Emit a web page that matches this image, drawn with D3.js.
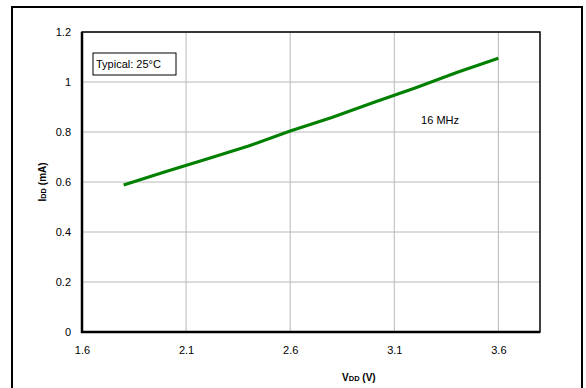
<!DOCTYPE html>
<html>
<head>
<meta charset="utf-8">
<script src="https://cdn.jsdelivr.net/npm/d3@7"></script>
<style>
  html, body { margin: 0; padding: 0; background: #fff; }
  svg { display: block; font-family: Arial, 'Liberation Sans', sans-serif; }
</style>
</head>
<body>
<div id="chart"></div>
<script>
// IDD vs VDD, typical 25°C, 16 MHz
var vdd = [1.8, 2.0, 2.2, 2.4, 2.6, 2.8, 3.0, 3.2, 3.4, 3.6];
var idd = [0.588, 0.641, 0.692, 0.744, 0.804, 0.858, 0.918, 0.976, 1.038, 1.095];
var xTicks = [1.6, 2.1, 2.6, 3.1, 3.6];
var yTicks = [0, 0.2, 0.4, 0.6, 0.8, 1, 1.2];
var seriesLabel = '16 MHz';
var noteLabel = 'Typical: 25°C';

(function(){
  var W = 586, H = 388;
  var margin = { top: 32, right: 46, bottom: 56, left: 82 };
  var width = W - margin.left - margin.right;
  var height = H - margin.top - margin.bottom;

  var svg = d3.select('#chart').append('svg')
    .attr('width', W).attr('height', H);

  // outer frame (bottom edge runs off the picture)
  svg.append('rect')
    .attr('x', 12).attr('y', 7)
    .attr('width', 570).attr('height', 400)
    .attr('fill', 'none').attr('stroke', '#000').attr('stroke-width', 2);

  var g = svg.append('g').attr('transform', 'translate(' + margin.left + ',' + margin.top + ')');

  var x = d3.scaleLinear().domain([1.6, 3.8]).range([0, width]);
  var y = d3.scaleLinear().domain([0, 1.2]).range([height, 0]);

  // gridlines
  g.append('g').selectAll('line.vg')
    .data(xTicks.slice(1))
    .enter().append('line')
    .attr('x1', function(d){ return x(d); }).attr('x2', function(d){ return x(d); })
    .attr('y1', 0).attr('y2', height)
    .attr('stroke', '#b8b8b8').attr('stroke-width', 1);
  g.append('g').selectAll('line.hg')
    .data(yTicks.slice(1))
    .enter().append('line')
    .attr('x1', 0).attr('x2', width)
    .attr('y1', function(d){ return y(d); }).attr('y2', function(d){ return y(d); })
    .attr('stroke', '#b8b8b8').attr('stroke-width', 1);

  // plot frame
  g.append('rect')
    .attr('x', 0).attr('y', 0).attr('width', width).attr('height', height)
    .attr('fill', 'none').attr('stroke', '#000').attr('stroke-width', 1.5);
  g.append('path')
    .attr('d', 'M0,0V' + height + 'H' + width)
    .attr('fill', 'none').attr('stroke', '#000').attr('stroke-width', 2.5);

  // tick labels
  var ax = g.append('g')
    .attr('transform', 'translate(0,' + height + ')')
    .call(d3.axisBottom(x).tickValues(xTicks).tickSize(0).tickPadding(14)
      .tickFormat(function(d){ return d3.format('.1f')(d); }));
  ax.select('.domain').remove();
  ax.selectAll('text').style('font-size', '11px').style('fill', '#000').style('font-family', 'Arial, Liberation Sans, sans-serif');

  var ay = g.append('g')
    .call(d3.axisLeft(y).tickValues(yTicks).tickSize(0).tickPadding(11)
      .tickFormat(function(d){ return d === 0 || d === 1 ? String(d) : d3.format('.1f')(d); }));
  ay.select('.domain').remove();
  ay.selectAll('text').style('font-size', '11px').style('fill', '#000').style('font-family', 'Arial, Liberation Sans, sans-serif');

  // data line
  var pts = vdd.map(function(v, i){ return [v, idd[i]]; });
  g.append('path')
    .datum(pts)
    .attr('d', d3.line().x(function(d){ return x(d[0]); }).y(function(d){ return y(d[1]); }))
    .attr('fill', 'none').attr('stroke', '#008000').attr('stroke-width', 3)
    .attr('stroke-linejoin', 'round');

  // series label
  g.append('text')
    .attr('x', x(3.32)).attr('y', y(0.832))
    .attr('text-anchor', 'middle')
    .style('font-size', '11px')
    .text(seriesLabel);

  // note box
  var note = g.append('g').attr('transform', 'translate(11,21)');
  note.append('rect')
    .attr('width', 83).attr('height', 22)
    .attr('fill', '#fff').attr('stroke', '#000').attr('stroke-width', 1);
  note.append('text')
    .attr('x', 3).attr('y', 15)
    .style('font-size', '11px')
    .text(noteLabel);

  // axis titles
  var xt = svg.append('text')
    .attr('x', margin.left + x(2.93)).attr('y', 381)
    .attr('text-anchor', 'middle')
    .style('font-size', '10px').style('font-weight', 'bold');
  xt.append('tspan').text('V');
  xt.append('tspan').style('font-size', '7.5px').text('DD');
  xt.append('tspan').text(' (V)');

  var yt = svg.append('text')
    .attr('transform', 'translate(46,' + (margin.top + height / 2) + ') rotate(-90)')
    .attr('text-anchor', 'middle')
    .style('font-size', '10px').style('font-weight', 'bold');
  yt.append('tspan').text('I');
  yt.append('tspan').style('font-size', '7.5px').text('DD');
  yt.append('tspan').text(' (mA)');
})();
</script>
</body>
</html>
